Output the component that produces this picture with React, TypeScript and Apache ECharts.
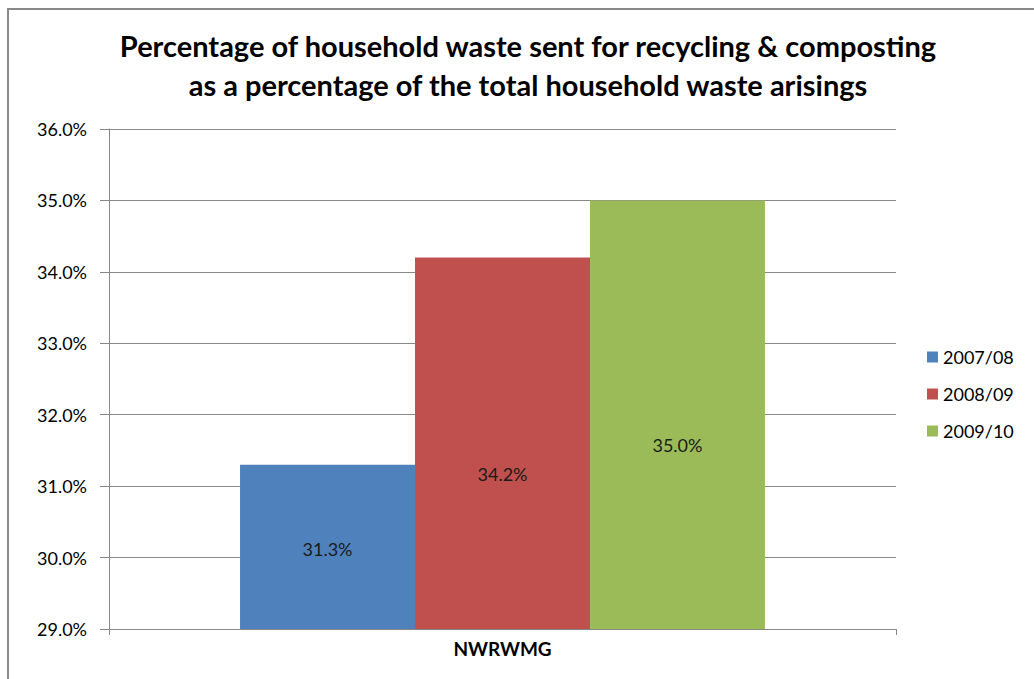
import React, { useEffect, useRef } from "react";
import * as echarts from "echarts";

const categories = ["NWRWMG"];
const seriesNames = ["2007/08", "2008/09", "2009/10"];
const seriesValues = [[31.3], [34.2], [35.0]];
const seriesColors = ["#4F81BD", "#C0504D", "#9BBB59"];
const labelOffsets = [[0, 2], [0, 31], [0, 30]];
const yMin = 29;
const yMax = 36;
const yInterval = 1;

const FONT = "Lato, 'Open Sans', sans-serif";

export default function App() {
  const ref = useRef<HTMLDivElement>(null);
  useEffect(() => {
    if (!ref.current) return;
    const chart = echarts.init(ref.current, null, { renderer: "svg" });
    chart.setOption({
      animation: false,
      textStyle: { fontFamily: FONT },
      title: {
        text: "Percentage of household waste sent for recycling & composting\nas a percentage of the total household waste arisings",
        left: 523,
        textAlign: "center",
        top: 21,
        textStyle: { fontSize: 29, fontWeight: "bold", color: "#000", lineHeight: 39, fontFamily: FONT },
      },
      graphic: [
        {
          type: "rect",
          shape: { x: 8, y: 9, width: 1040, height: 690 },
          style: { fill: "none", stroke: "#888", lineWidth: 2 },
          silent: true,
        },
      ],
      legend: {
        orient: "vertical",
        left: 922,
        top: 343,
        itemWidth: 11,
        itemHeight: 11,
        itemGap: 19,
        icon: "rect",
        textStyle: { fontSize: 18, color: "#000", fontFamily: FONT },
        data: seriesNames,
      },
      grid: { left: 109, right: 138, top: 129, bottom: 50, containLabel: false },
      xAxis: {
        type: "category",
        data: categories,
        axisLine: { lineStyle: { color: "#888" } },
        axisTick: { show: true, length: 6, lineStyle: { color: "#888" } },
        axisLabel: { fontSize: 19, fontWeight: "bold", color: "#000", margin: 10, fontFamily: FONT },
      },
      yAxis: {
        type: "value",
        min: yMin,
        max: yMax,
        interval: yInterval,
        axisLine: { show: true, lineStyle: { color: "#888" } },
        axisTick: { show: true, length: 9, lineStyle: { color: "#888" } },
        splitLine: { lineStyle: { color: "#888" } },
        axisLabel: {
          fontSize: 18,
          color: "#000",
          margin: 22,
          fontFamily: FONT,
          formatter: (v: number) => v.toFixed(1) + "%",
        },
      },
      series: seriesNames.map((name, i) => ({
        name,
        type: "bar",
        barGap: "0%",
        barCategoryGap: "33.3%",
        itemStyle: { color: seriesColors[i] },
        label: {
          show: true,
          position: "inside",
          offset: labelOffsets[i],
          fontSize: 18,
          color: "#1a1a1a",
          fontFamily: FONT,
          formatter: (p: any) => p.value.toFixed(1) + "%",
        },
        data: seriesValues[i],
      })),
    });
    return () => chart.dispose();
  }, []);
  return <div ref={ref} style={{ width: 1034, height: 679, position: "absolute", left: 0, top: 0 }} />;
}
